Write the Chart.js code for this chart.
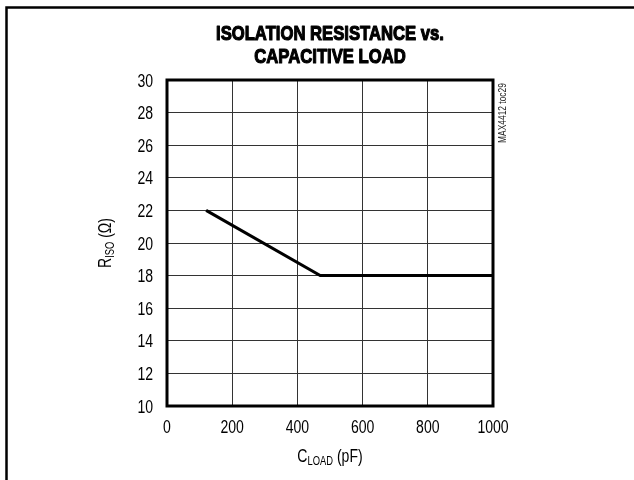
<!DOCTYPE html>
<html>
<head>
<meta charset="utf-8">
<title>Isolation Resistance vs. Capacitive Load</title>
<script src="https://cdn.jsdelivr.net/npm/chart.js@4.4.1/dist/chart.umd.min.js"></script>
<style>
  html, body { margin: 0; padding: 0; background: #fff; }
  canvas { display: block; }
</style>
</head>
<body>
<canvas id="chart" width="634" height="480"></canvas>
<script>
// R_ISO curve: sloping down to 18 ohms, then flat out to 1000pF
const capLoad = [120, 470, 1000];
const rIso = [22, 18, 18];

const titleLines = ['ISOLATION RESISTANCE vs.', 'CAPACITIVE LOAD'];
const xRange = [0, 1000];
const yRange = [10, 30];
const xStep = 200;
const yStep = 2;
const partNote = 'MAX4412 toc29';

const SANS = "'Liberation Sans', Arial, sans-serif";
const SQUEEZE = 0.78; // horizontal squeeze to get a condensed face

// text drawn through a horizontal squeeze, anchored at (x, y)
function squeezed(ctx, text, x, y, align, sx, heavy) {
    ctx.save();
    ctx.translate(x, y);
    ctx.scale(sx, 1);
    ctx.textAlign = align;
    ctx.fillText(text, 0, 0);
    if (heavy) {
        ctx.strokeStyle = ctx.fillStyle;
        ctx.lineWidth = heavy;
        ctx.lineJoin = 'round';
        ctx.strokeText(text, 0, 0);
    }
    ctx.restore();
}

// text with a subscript run, centered on x=0 at baseline y=0
function drawSubText(ctx, parts) {
    let total = 0;
    parts.forEach(p => {
        ctx.font = p.sub ? `12px ${SANS}` : `18px ${SANS}`;
        p.w = ctx.measureText(p.t).width * SQUEEZE;
        total += p.w;
    });
    let x = -total / 2;
    ctx.textBaseline = 'alphabetic';
    parts.forEach(p => {
        ctx.font = p.sub ? `12px ${SANS}` : `18px ${SANS}`;
        squeezed(ctx, p.t, x, p.sub ? 3 : 0, 'left', SQUEEZE);
        x += p.w;
    });
}

const decor = {
    id: 'decor',
    beforeDraw(chart) {
        const ctx = chart.ctx;
        ctx.save();
        ctx.fillStyle = '#fff';
        ctx.fillRect(0, 0, chart.width, chart.height);
        // outer frame, top and left edges only
        ctx.strokeStyle = '#000';
        ctx.lineWidth = 2.5;
        ctx.beginPath();
        ctx.moveTo(chart.width, 7.5);
        ctx.lineTo(6.5, 7.5);
        ctx.lineTo(6.5, chart.height);
        ctx.stroke();
        ctx.restore();
    },
    afterDraw(chart) {
        const ctx = chart.ctx;
        const a = chart.chartArea;
        const cx = (a.left + a.right) / 2;
        const xs = chart.scales.x;
        const ys = chart.scales.y;
        ctx.save();

        // plot box
        ctx.strokeStyle = '#000';
        ctx.lineWidth = 3;
        ctx.strokeRect(a.left, a.top, a.right - a.left, a.bottom - a.top);

        ctx.fillStyle = '#000';
        ctx.textBaseline = 'alphabetic';

        // tick labels, placed from the scales
        ctx.font = `18px ${SANS}`;
        xs.ticks.forEach(t => {
            squeezed(ctx, String(t.value), xs.getPixelForValue(t.value), 433, 'center', SQUEEZE);
        });
        ys.ticks.forEach(t => {
            squeezed(ctx, String(t.value), 153, ys.getPixelForValue(t.value) + 6.5, 'right', SQUEEZE);
        });

        // heading, heavy condensed
        ctx.font = `bold 21px ${SANS}`;
        const hs = 228 / ctx.measureText(titleLines[0]).width;
        titleLines.forEach((line, i) => squeezed(ctx, line, cx, 40 + i * 23, 'center', hs, 1.2));

        // x axis title
        ctx.save();
        ctx.translate(cx, 462);
        drawSubText(ctx, [{ t: 'C' }, { t: 'LOAD', sub: true }, { t: ' (pF)' }]);
        ctx.restore();

        // y axis title
        ctx.save();
        ctx.translate(111, (a.top + a.bottom) / 2);
        ctx.rotate(-Math.PI / 2);
        drawSubText(ctx, [{ t: 'R' }, { t: 'ISO', sub: true }, { t: ' (\u03A9)' }]);
        ctx.restore();

        // part number note
        ctx.save();
        ctx.translate(506, 113);
        ctx.rotate(-Math.PI / 2);
        ctx.fillStyle = '#222';
        ctx.font = `10.5px ${SANS}`;
        squeezed(ctx, partNote, 0, 0, 'center', 0.8);
        ctx.restore();

        ctx.restore();
    }
};

new Chart(document.getElementById('chart'), {
    type: 'line',
    data: {
        datasets: [{
            data: capLoad.map((x, i) => ({ x, y: rIso[i] })),
            borderColor: '#000',
            borderWidth: 3,
            pointRadius: 0,
            tension: 0,
            fill: false
        }]
    },
    options: {
        responsive: false,
        animation: false,
        devicePixelRatio: 1,
        layout: { padding: { left: 0, right: 141, top: 80, bottom: 0 } },
        plugins: {
            legend: { display: false },
            title: { display: false },
            tooltip: { enabled: false }
        },
        scales: {
            x: {
                type: 'linear',
                min: xRange[0],
                max: xRange[1],
                border: { display: false },
                grid: { color: '#333', lineWidth: 1, drawTicks: false },
                ticks: { stepSize: xStep, display: false },
                afterFit(s) { s.height = 74; }
            },
            y: {
                min: yRange[0],
                max: yRange[1],
                border: { display: false },
                grid: { color: '#333', lineWidth: 1, drawTicks: false },
                ticks: { stepSize: yStep, display: false },
                afterFit(s) { s.width = 167; }
            }
        }
    },
    plugins: [decor]
});
</script>
</body>
</html>
